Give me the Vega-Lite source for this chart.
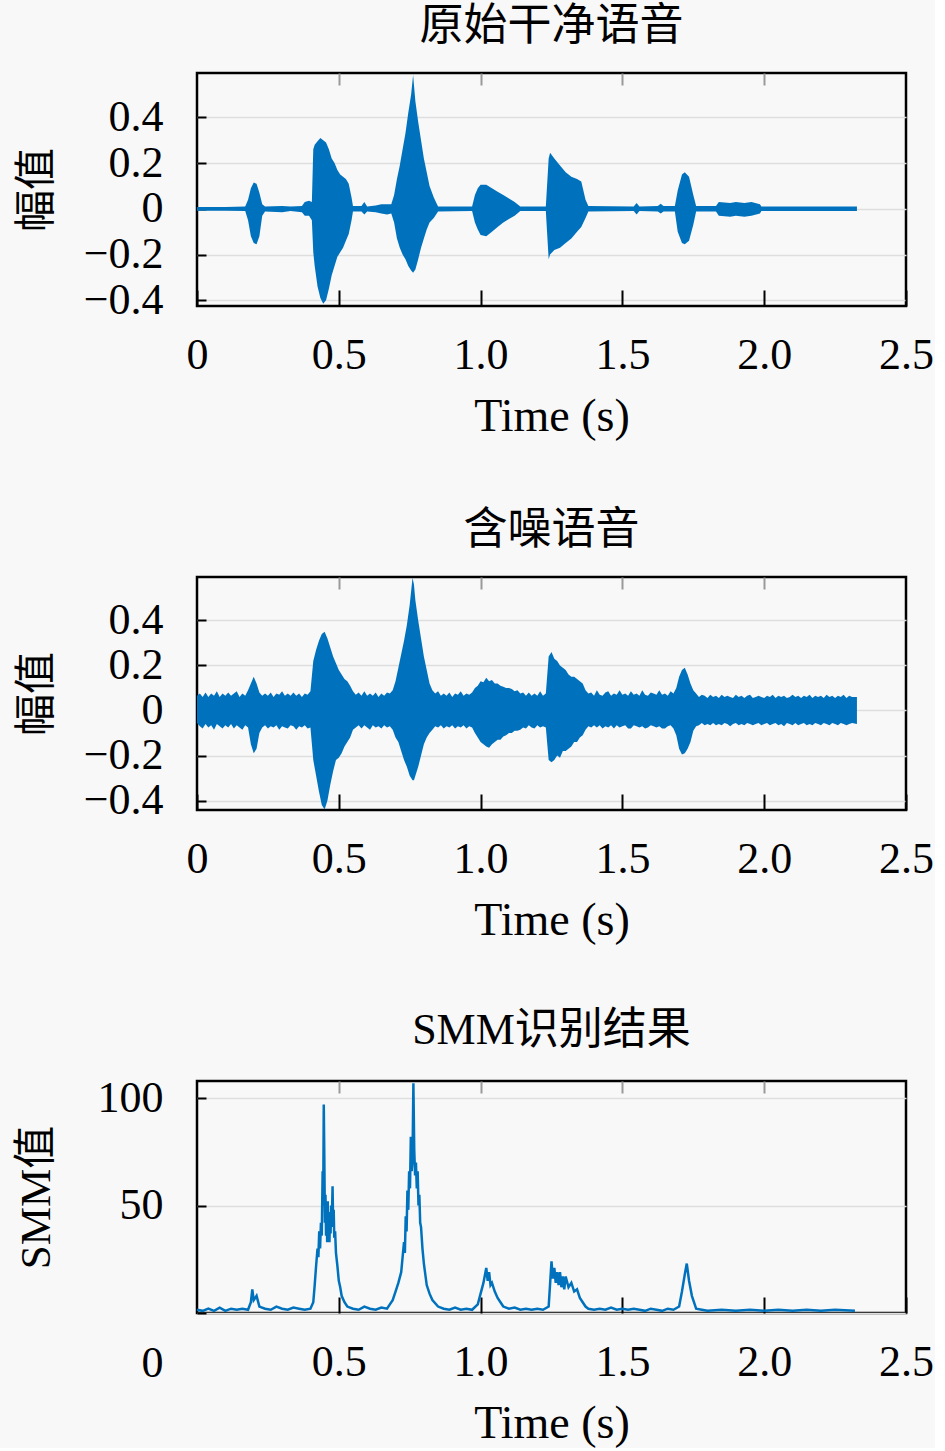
{
  "$schema": "https://vega.github.io/schema/vega-lite/v6.json",
  "background": "#f8f8f8",
  "padding": {"left": 13, "top": 3, "right": 0, "bottom": 0},
  "bounds": "flush",
  "spacing": 271,
  "config": {
    "font": "Liberation Serif, Noto Sans CJK SC",
    "view": {"stroke": "#000000", "strokeWidth": 2.5},
    "axis": {
      "labelFont": "Liberation Serif",
      "labelFontSize": 44,
      "labelColor": "#000000",
      "titleFont": "Liberation Serif, Noto Sans CJK SC",
      "titleFontWeight": "normal",
      "titleColor": "#000000",
      "domain": false,
      "tickColor": "#000000",
      "tickWidth": 2,
      "gridColor": "#dedede",
      "gridWidth": 1.5,
      "labelFlush": false,
      "labelOverlap": false
    },
    "title": {"font": "Liberation Serif, Noto Sans CJK SC", "fontSize": 44, "fontWeight": "normal", "color": "#000000", "anchor": "middle", "offset": 23}
  },
  "datasets": {
    "clean": [
      {"t": 0, "hi": 0.008, "lo": -0.008},
      {"t": 0.1, "hi": 0.008, "lo": -0.008},
      {"t": 0.17, "hi": 0.01, "lo": -0.01},
      {"t": 0.18, "hi": 0.04, "lo": -0.05},
      {"t": 0.19, "hi": 0.09, "lo": -0.12},
      {"t": 0.2, "hi": 0.115, "lo": -0.15},
      {"t": 0.21, "hi": 0.11, "lo": -0.155},
      {"t": 0.22, "hi": 0.07, "lo": -0.12},
      {"t": 0.23, "hi": 0.02, "lo": -0.03},
      {"t": 0.24, "hi": 0.01, "lo": -0.012},
      {"t": 0.3, "hi": 0.012, "lo": -0.015},
      {"t": 0.33, "hi": 0.01, "lo": -0.01},
      {"t": 0.37, "hi": 0.012, "lo": -0.015},
      {"t": 0.38, "hi": 0.03, "lo": -0.03},
      {"t": 0.395, "hi": 0.035, "lo": -0.03},
      {"t": 0.405, "hi": 0.03, "lo": -0.05},
      {"t": 0.41, "hi": 0.26, "lo": -0.19},
      {"t": 0.415, "hi": 0.28, "lo": -0.25},
      {"t": 0.425, "hi": 0.295, "lo": -0.34},
      {"t": 0.435, "hi": 0.31, "lo": -0.39},
      {"t": 0.445, "hi": 0.3, "lo": -0.415},
      {"t": 0.455, "hi": 0.29, "lo": -0.4},
      {"t": 0.465, "hi": 0.26, "lo": -0.35},
      {"t": 0.475, "hi": 0.22, "lo": -0.29},
      {"t": 0.485, "hi": 0.2, "lo": -0.25},
      {"t": 0.495, "hi": 0.17, "lo": -0.21},
      {"t": 0.505, "hi": 0.15, "lo": -0.19},
      {"t": 0.515, "hi": 0.14, "lo": -0.17},
      {"t": 0.525, "hi": 0.13, "lo": -0.14},
      {"t": 0.535, "hi": 0.11, "lo": -0.11},
      {"t": 0.545, "hi": 0.05, "lo": -0.05},
      {"t": 0.55, "hi": 0.012, "lo": -0.012},
      {"t": 0.58, "hi": 0.012, "lo": -0.012},
      {"t": 0.59, "hi": 0.03, "lo": -0.025},
      {"t": 0.6, "hi": 0.01, "lo": -0.012},
      {"t": 0.63, "hi": 0.015, "lo": -0.015},
      {"t": 0.65, "hi": 0.02, "lo": -0.02},
      {"t": 0.67, "hi": 0.02, "lo": -0.025},
      {"t": 0.685, "hi": 0.02, "lo": -0.02},
      {"t": 0.695, "hi": 0.06, "lo": -0.06},
      {"t": 0.705, "hi": 0.13, "lo": -0.13},
      {"t": 0.715, "hi": 0.19, "lo": -0.17},
      {"t": 0.725, "hi": 0.26, "lo": -0.2},
      {"t": 0.735, "hi": 0.33, "lo": -0.22},
      {"t": 0.745, "hi": 0.42, "lo": -0.25},
      {"t": 0.755, "hi": 0.5, "lo": -0.27},
      {"t": 0.762, "hi": 0.585, "lo": -0.28},
      {"t": 0.77, "hi": 0.47, "lo": -0.265},
      {"t": 0.78, "hi": 0.38, "lo": -0.22},
      {"t": 0.79, "hi": 0.3, "lo": -0.17},
      {"t": 0.8, "hi": 0.22, "lo": -0.13},
      {"t": 0.81, "hi": 0.16, "lo": -0.09},
      {"t": 0.82, "hi": 0.1, "lo": -0.06},
      {"t": 0.835, "hi": 0.05, "lo": -0.04},
      {"t": 0.85, "hi": 0.01, "lo": -0.012},
      {"t": 0.97, "hi": 0.01, "lo": -0.01},
      {"t": 0.98, "hi": 0.06, "lo": -0.06},
      {"t": 0.99, "hi": 0.09, "lo": -0.09},
      {"t": 1.0, "hi": 0.105, "lo": -0.115},
      {"t": 1.02, "hi": 0.105, "lo": -0.12},
      {"t": 1.04, "hi": 0.09, "lo": -0.1},
      {"t": 1.06, "hi": 0.075, "lo": -0.08},
      {"t": 1.08, "hi": 0.06, "lo": -0.06},
      {"t": 1.1, "hi": 0.045, "lo": -0.045},
      {"t": 1.12, "hi": 0.03, "lo": -0.03},
      {"t": 1.14, "hi": 0.01, "lo": -0.01},
      {"t": 1.23, "hi": 0.01, "lo": -0.01},
      {"t": 1.24, "hi": 0.22, "lo": -0.22},
      {"t": 1.245, "hi": 0.245, "lo": -0.2},
      {"t": 1.26, "hi": 0.22, "lo": -0.18},
      {"t": 1.28, "hi": 0.19, "lo": -0.17},
      {"t": 1.3, "hi": 0.16, "lo": -0.15},
      {"t": 1.32, "hi": 0.14, "lo": -0.13},
      {"t": 1.34, "hi": 0.13, "lo": -0.1},
      {"t": 1.355, "hi": 0.12, "lo": -0.08},
      {"t": 1.37, "hi": 0.04, "lo": -0.04},
      {"t": 1.38, "hi": 0.012, "lo": -0.012},
      {"t": 1.54, "hi": 0.01, "lo": -0.01},
      {"t": 1.55, "hi": 0.025, "lo": -0.025},
      {"t": 1.56, "hi": 0.01, "lo": -0.01},
      {"t": 1.625, "hi": 0.012, "lo": -0.012},
      {"t": 1.635, "hi": 0.022, "lo": -0.02},
      {"t": 1.645, "hi": 0.012, "lo": -0.012},
      {"t": 1.685, "hi": 0.012, "lo": -0.012},
      {"t": 1.695, "hi": 0.08, "lo": -0.1},
      {"t": 1.71, "hi": 0.15, "lo": -0.15},
      {"t": 1.72, "hi": 0.16, "lo": -0.155},
      {"t": 1.735, "hi": 0.14, "lo": -0.14},
      {"t": 1.75, "hi": 0.06, "lo": -0.07},
      {"t": 1.76, "hi": 0.012, "lo": -0.012},
      {"t": 1.83, "hi": 0.012, "lo": -0.012},
      {"t": 1.84, "hi": 0.03, "lo": -0.03},
      {"t": 1.88, "hi": 0.025, "lo": -0.035},
      {"t": 1.9, "hi": 0.03, "lo": -0.03},
      {"t": 1.93, "hi": 0.025, "lo": -0.035},
      {"t": 1.955, "hi": 0.03, "lo": -0.03},
      {"t": 1.985, "hi": 0.02, "lo": -0.02},
      {"t": 1.99, "hi": 0.01, "lo": -0.01},
      {"t": 2.327, "hi": 0.01, "lo": -0.01}
    ],
    "noisy": [
      {"t": 0.0, "hi": 0.065, "lo": -0.055},
      {"t": 0.01, "hi": 0.075, "lo": -0.07},
      {"t": 0.02, "hi": 0.06, "lo": -0.08},
      {"t": 0.03, "hi": 0.08, "lo": -0.06},
      {"t": 0.04, "hi": 0.06, "lo": -0.075},
      {"t": 0.05, "hi": 0.075, "lo": -0.065},
      {"t": 0.06, "hi": 0.065, "lo": -0.085},
      {"t": 0.07, "hi": 0.085, "lo": -0.06},
      {"t": 0.08, "hi": 0.06, "lo": -0.07},
      {"t": 0.09, "hi": 0.075, "lo": -0.08},
      {"t": 0.1, "hi": 0.065, "lo": -0.065},
      {"t": 0.11, "hi": 0.08, "lo": -0.075},
      {"t": 0.12, "hi": 0.065, "lo": -0.06},
      {"t": 0.13, "hi": 0.075, "lo": -0.08},
      {"t": 0.14, "hi": 0.085, "lo": -0.065},
      {"t": 0.15, "hi": 0.06, "lo": -0.075},
      {"t": 0.16, "hi": 0.075, "lo": -0.085},
      {"t": 0.17, "hi": 0.065, "lo": -0.065},
      {"t": 0.18, "hi": 0.09, "lo": -0.075},
      {"t": 0.19, "hi": 0.12, "lo": -0.15},
      {"t": 0.2, "hi": 0.15, "lo": -0.19},
      {"t": 0.21, "hi": 0.12, "lo": -0.17},
      {"t": 0.22, "hi": 0.08, "lo": -0.1},
      {"t": 0.23, "hi": 0.065, "lo": -0.075},
      {"t": 0.24, "hi": 0.075, "lo": -0.065},
      {"t": 0.25, "hi": 0.065, "lo": -0.08},
      {"t": 0.26, "hi": 0.08, "lo": -0.07},
      {"t": 0.27, "hi": 0.06, "lo": -0.075},
      {"t": 0.28, "hi": 0.075, "lo": -0.065},
      {"t": 0.29, "hi": 0.07, "lo": -0.085},
      {"t": 0.3, "hi": 0.085, "lo": -0.07},
      {"t": 0.31, "hi": 0.065, "lo": -0.075},
      {"t": 0.32, "hi": 0.075, "lo": -0.08},
      {"t": 0.33, "hi": 0.065, "lo": -0.065},
      {"t": 0.34, "hi": 0.08, "lo": -0.07},
      {"t": 0.35, "hi": 0.065, "lo": -0.085},
      {"t": 0.36, "hi": 0.075, "lo": -0.07},
      {"t": 0.37, "hi": 0.06, "lo": -0.075},
      {"t": 0.38, "hi": 0.075, "lo": -0.065},
      {"t": 0.39, "hi": 0.07, "lo": -0.08},
      {"t": 0.4, "hi": 0.085, "lo": -0.075},
      {"t": 0.41, "hi": 0.22, "lo": -0.22},
      {"t": 0.42, "hi": 0.27, "lo": -0.29},
      {"t": 0.43, "hi": 0.31, "lo": -0.36},
      {"t": 0.44, "hi": 0.34, "lo": -0.42},
      {"t": 0.45, "hi": 0.35, "lo": -0.44},
      {"t": 0.46, "hi": 0.32, "lo": -0.4},
      {"t": 0.47, "hi": 0.28, "lo": -0.33},
      {"t": 0.48, "hi": 0.24, "lo": -0.27},
      {"t": 0.49, "hi": 0.21, "lo": -0.22},
      {"t": 0.5, "hi": 0.18, "lo": -0.21},
      {"t": 0.51, "hi": 0.16, "lo": -0.19},
      {"t": 0.52, "hi": 0.14, "lo": -0.16},
      {"t": 0.53, "hi": 0.13, "lo": -0.14},
      {"t": 0.54, "hi": 0.11, "lo": -0.12},
      {"t": 0.55, "hi": 0.085, "lo": -0.085},
      {"t": 0.56, "hi": 0.07, "lo": -0.075},
      {"t": 0.57, "hi": 0.08, "lo": -0.065},
      {"t": 0.58, "hi": 0.065, "lo": -0.08},
      {"t": 0.59, "hi": 0.085, "lo": -0.065},
      {"t": 0.6, "hi": 0.065, "lo": -0.075},
      {"t": 0.61, "hi": 0.075, "lo": -0.085},
      {"t": 0.62, "hi": 0.065, "lo": -0.065},
      {"t": 0.63, "hi": 0.08, "lo": -0.075},
      {"t": 0.64, "hi": 0.06, "lo": -0.07},
      {"t": 0.65, "hi": 0.075, "lo": -0.08},
      {"t": 0.66, "hi": 0.065, "lo": -0.065},
      {"t": 0.67, "hi": 0.08, "lo": -0.075},
      {"t": 0.68, "hi": 0.075, "lo": -0.07},
      {"t": 0.69, "hi": 0.09, "lo": -0.085},
      {"t": 0.7, "hi": 0.13, "lo": -0.12},
      {"t": 0.71, "hi": 0.19, "lo": -0.14},
      {"t": 0.72, "hi": 0.25, "lo": -0.18},
      {"t": 0.73, "hi": 0.31, "lo": -0.22},
      {"t": 0.74, "hi": 0.38, "lo": -0.25},
      {"t": 0.75, "hi": 0.47, "lo": -0.29},
      {"t": 0.76, "hi": 0.59, "lo": -0.31},
      {"t": 0.765, "hi": 0.56, "lo": -0.31},
      {"t": 0.77, "hi": 0.49, "lo": -0.29},
      {"t": 0.78, "hi": 0.4, "lo": -0.25},
      {"t": 0.79, "hi": 0.32, "lo": -0.2},
      {"t": 0.8, "hi": 0.24, "lo": -0.15},
      {"t": 0.81, "hi": 0.18, "lo": -0.12},
      {"t": 0.82, "hi": 0.12, "lo": -0.1},
      {"t": 0.83, "hi": 0.09, "lo": -0.085},
      {"t": 0.84, "hi": 0.075, "lo": -0.07},
      {"t": 0.85, "hi": 0.085, "lo": -0.075},
      {"t": 0.86, "hi": 0.065, "lo": -0.065},
      {"t": 0.87, "hi": 0.075, "lo": -0.08},
      {"t": 0.88, "hi": 0.065, "lo": -0.07},
      {"t": 0.89, "hi": 0.08, "lo": -0.075},
      {"t": 0.9, "hi": 0.06, "lo": -0.065},
      {"t": 0.91, "hi": 0.075, "lo": -0.08},
      {"t": 0.92, "hi": 0.07, "lo": -0.07},
      {"t": 0.93, "hi": 0.085, "lo": -0.075},
      {"t": 0.94, "hi": 0.065, "lo": -0.065},
      {"t": 0.95, "hi": 0.075, "lo": -0.08},
      {"t": 0.96, "hi": 0.07, "lo": -0.07},
      {"t": 0.97, "hi": 0.08, "lo": -0.075},
      {"t": 0.98, "hi": 0.1, "lo": -0.1},
      {"t": 0.99, "hi": 0.11, "lo": -0.12},
      {"t": 1.0, "hi": 0.13, "lo": -0.14},
      {"t": 1.01, "hi": 0.125, "lo": -0.15},
      {"t": 1.02, "hi": 0.145, "lo": -0.16},
      {"t": 1.03, "hi": 0.13, "lo": -0.165},
      {"t": 1.04, "hi": 0.135, "lo": -0.15},
      {"t": 1.05, "hi": 0.12, "lo": -0.14},
      {"t": 1.06, "hi": 0.12, "lo": -0.13},
      {"t": 1.07, "hi": 0.11, "lo": -0.13},
      {"t": 1.08, "hi": 0.105, "lo": -0.115},
      {"t": 1.09, "hi": 0.1, "lo": -0.11},
      {"t": 1.1, "hi": 0.1, "lo": -0.1},
      {"t": 1.11, "hi": 0.095, "lo": -0.1},
      {"t": 1.12, "hi": 0.085, "lo": -0.09},
      {"t": 1.13, "hi": 0.09, "lo": -0.09},
      {"t": 1.14, "hi": 0.075, "lo": -0.085},
      {"t": 1.15, "hi": 0.08, "lo": -0.075},
      {"t": 1.16, "hi": 0.065, "lo": -0.08},
      {"t": 1.17, "hi": 0.08, "lo": -0.065},
      {"t": 1.18, "hi": 0.065, "lo": -0.075},
      {"t": 1.19, "hi": 0.075, "lo": -0.08},
      {"t": 1.2, "hi": 0.065, "lo": -0.065},
      {"t": 1.21, "hi": 0.085, "lo": -0.075},
      {"t": 1.22, "hi": 0.065, "lo": -0.07},
      {"t": 1.23, "hi": 0.075, "lo": -0.075},
      {"t": 1.24, "hi": 0.24, "lo": -0.22},
      {"t": 1.25, "hi": 0.26, "lo": -0.23},
      {"t": 1.26, "hi": 0.23, "lo": -0.22},
      {"t": 1.27, "hi": 0.22, "lo": -0.2},
      {"t": 1.28, "hi": 0.2, "lo": -0.21},
      {"t": 1.29, "hi": 0.19, "lo": -0.18},
      {"t": 1.3, "hi": 0.18, "lo": -0.18},
      {"t": 1.31, "hi": 0.16, "lo": -0.17},
      {"t": 1.32, "hi": 0.15, "lo": -0.16},
      {"t": 1.33, "hi": 0.15, "lo": -0.14},
      {"t": 1.34, "hi": 0.14, "lo": -0.14},
      {"t": 1.35, "hi": 0.13, "lo": -0.12},
      {"t": 1.36, "hi": 0.12, "lo": -0.11},
      {"t": 1.37, "hi": 0.09, "lo": -0.085},
      {"t": 1.38, "hi": 0.075, "lo": -0.07},
      {"t": 1.39, "hi": 0.08, "lo": -0.075},
      {"t": 1.4, "hi": 0.065, "lo": -0.065},
      {"t": 1.41, "hi": 0.09, "lo": -0.075},
      {"t": 1.42, "hi": 0.07, "lo": -0.065},
      {"t": 1.43, "hi": 0.065, "lo": -0.08},
      {"t": 1.44, "hi": 0.08, "lo": -0.07},
      {"t": 1.45, "hi": 0.085, "lo": -0.075},
      {"t": 1.46, "hi": 0.065, "lo": -0.065},
      {"t": 1.47, "hi": 0.075, "lo": -0.08},
      {"t": 1.48, "hi": 0.07, "lo": -0.065},
      {"t": 1.49, "hi": 0.09, "lo": -0.075},
      {"t": 1.5, "hi": 0.07, "lo": -0.07},
      {"t": 1.51, "hi": 0.075, "lo": -0.065},
      {"t": 1.52, "hi": 0.065, "lo": -0.08},
      {"t": 1.53, "hi": 0.085, "lo": -0.08},
      {"t": 1.54, "hi": 0.07, "lo": -0.065},
      {"t": 1.55, "hi": 0.075, "lo": -0.07},
      {"t": 1.56, "hi": 0.065, "lo": -0.075},
      {"t": 1.57, "hi": 0.09, "lo": -0.07},
      {"t": 1.58, "hi": 0.07, "lo": -0.08},
      {"t": 1.59, "hi": 0.065, "lo": -0.075},
      {"t": 1.6, "hi": 0.08, "lo": -0.065},
      {"t": 1.61, "hi": 0.075, "lo": -0.07},
      {"t": 1.62, "hi": 0.07, "lo": -0.075},
      {"t": 1.63, "hi": 0.09, "lo": -0.07},
      {"t": 1.64, "hi": 0.07, "lo": -0.08},
      {"t": 1.65, "hi": 0.075, "lo": -0.08},
      {"t": 1.66, "hi": 0.065, "lo": -0.07},
      {"t": 1.67, "hi": 0.085, "lo": -0.065},
      {"t": 1.68, "hi": 0.075, "lo": -0.08},
      {"t": 1.69, "hi": 0.1, "lo": -0.11},
      {"t": 1.7, "hi": 0.15, "lo": -0.17},
      {"t": 1.71, "hi": 0.18, "lo": -0.195},
      {"t": 1.72, "hi": 0.19, "lo": -0.19},
      {"t": 1.73, "hi": 0.16, "lo": -0.17},
      {"t": 1.74, "hi": 0.12, "lo": -0.14},
      {"t": 1.75, "hi": 0.09, "lo": -0.09},
      {"t": 1.76, "hi": 0.075, "lo": -0.07},
      {"t": 1.77, "hi": 0.06, "lo": -0.065},
      {"t": 1.78, "hi": 0.07, "lo": -0.055},
      {"t": 1.79, "hi": 0.065, "lo": -0.065},
      {"t": 1.8, "hi": 0.055, "lo": -0.06},
      {"t": 1.81, "hi": 0.07, "lo": -0.065},
      {"t": 1.82, "hi": 0.06, "lo": -0.055},
      {"t": 1.83, "hi": 0.065, "lo": -0.065},
      {"t": 1.84, "hi": 0.055, "lo": -0.06},
      {"t": 1.85, "hi": 0.07, "lo": -0.065},
      {"t": 1.86, "hi": 0.06, "lo": -0.055},
      {"t": 1.87, "hi": 0.065, "lo": -0.06},
      {"t": 1.88, "hi": 0.06, "lo": -0.07},
      {"t": 1.89, "hi": 0.055, "lo": -0.06},
      {"t": 1.9, "hi": 0.07, "lo": -0.055},
      {"t": 1.91, "hi": 0.06, "lo": -0.065},
      {"t": 1.92, "hi": 0.065, "lo": -0.06},
      {"t": 1.93, "hi": 0.055, "lo": -0.065},
      {"t": 1.94, "hi": 0.065, "lo": -0.055},
      {"t": 1.95, "hi": 0.07, "lo": -0.06},
      {"t": 1.96, "hi": 0.055, "lo": -0.065},
      {"t": 1.97, "hi": 0.06, "lo": -0.06},
      {"t": 1.98, "hi": 0.065, "lo": -0.055},
      {"t": 1.99, "hi": 0.06, "lo": -0.065},
      {"t": 2.0, "hi": 0.055, "lo": -0.06},
      {"t": 2.01, "hi": 0.065, "lo": -0.055},
      {"t": 2.02, "hi": 0.06, "lo": -0.065},
      {"t": 2.03, "hi": 0.07, "lo": -0.06},
      {"t": 2.04, "hi": 0.055, "lo": -0.055},
      {"t": 2.05, "hi": 0.065, "lo": -0.065},
      {"t": 2.06, "hi": 0.06, "lo": -0.06},
      {"t": 2.07, "hi": 0.065, "lo": -0.07},
      {"t": 2.08, "hi": 0.055, "lo": -0.055},
      {"t": 2.09, "hi": 0.06, "lo": -0.06},
      {"t": 2.1, "hi": 0.07, "lo": -0.065},
      {"t": 2.11, "hi": 0.06, "lo": -0.055},
      {"t": 2.12, "hi": 0.065, "lo": -0.065},
      {"t": 2.13, "hi": 0.055, "lo": -0.06},
      {"t": 2.14, "hi": 0.065, "lo": -0.055},
      {"t": 2.15, "hi": 0.06, "lo": -0.065},
      {"t": 2.16, "hi": 0.07, "lo": -0.06},
      {"t": 2.17, "hi": 0.055, "lo": -0.065},
      {"t": 2.18, "hi": 0.065, "lo": -0.055},
      {"t": 2.19, "hi": 0.06, "lo": -0.06},
      {"t": 2.2, "hi": 0.065, "lo": -0.065},
      {"t": 2.21, "hi": 0.055, "lo": -0.055},
      {"t": 2.22, "hi": 0.07, "lo": -0.06},
      {"t": 2.23, "hi": 0.06, "lo": -0.065},
      {"t": 2.24, "hi": 0.065, "lo": -0.055},
      {"t": 2.25, "hi": 0.055, "lo": -0.06},
      {"t": 2.26, "hi": 0.065, "lo": -0.065},
      {"t": 2.27, "hi": 0.06, "lo": -0.055},
      {"t": 2.28, "hi": 0.07, "lo": -0.06},
      {"t": 2.29, "hi": 0.055, "lo": -0.065},
      {"t": 2.3, "hi": 0.065, "lo": -0.06},
      {"t": 2.31, "hi": 0.06, "lo": -0.055},
      {"t": 2.327, "hi": 0.06, "lo": -0.06}
    ],
    "smm": [
      {"t": 0.0, "v": 1.5}, {"t": 0.02, "v": 1}, {"t": 0.04, "v": 2}, {"t": 0.06, "v": 1},
      {"t": 0.08, "v": 2.5}, {"t": 0.1, "v": 1}, {"t": 0.12, "v": 2}, {"t": 0.14, "v": 1.5},
      {"t": 0.16, "v": 2}, {"t": 0.18, "v": 1.5}, {"t": 0.19, "v": 5}, {"t": 0.195, "v": 11},
      {"t": 0.2, "v": 6}, {"t": 0.21, "v": 8}, {"t": 0.22, "v": 3}, {"t": 0.24, "v": 2},
      {"t": 0.26, "v": 1.5}, {"t": 0.28, "v": 3}, {"t": 0.3, "v": 2}, {"t": 0.32, "v": 1.5},
      {"t": 0.34, "v": 2.5}, {"t": 0.36, "v": 2}, {"t": 0.38, "v": 1.5}, {"t": 0.4, "v": 2},
      {"t": 0.41, "v": 5}, {"t": 0.415, "v": 13}, {"t": 0.42, "v": 22}, {"t": 0.425, "v": 30},
      {"t": 0.428, "v": 26}, {"t": 0.431, "v": 38}, {"t": 0.434, "v": 30}, {"t": 0.437, "v": 42},
      {"t": 0.44, "v": 36}, {"t": 0.443, "v": 66}, {"t": 0.445, "v": 50}, {"t": 0.447, "v": 97},
      {"t": 0.449, "v": 72}, {"t": 0.451, "v": 42}, {"t": 0.453, "v": 55}, {"t": 0.455, "v": 36},
      {"t": 0.457, "v": 50}, {"t": 0.459, "v": 33}, {"t": 0.461, "v": 52}, {"t": 0.463, "v": 36},
      {"t": 0.465, "v": 47}, {"t": 0.467, "v": 33}, {"t": 0.469, "v": 45}, {"t": 0.471, "v": 37},
      {"t": 0.473, "v": 50}, {"t": 0.475, "v": 40}, {"t": 0.478, "v": 59}, {"t": 0.48, "v": 42},
      {"t": 0.482, "v": 48}, {"t": 0.484, "v": 35}, {"t": 0.487, "v": 38}, {"t": 0.49, "v": 28},
      {"t": 0.495, "v": 22}, {"t": 0.5, "v": 15}, {"t": 0.505, "v": 12}, {"t": 0.51, "v": 8},
      {"t": 0.52, "v": 5}, {"t": 0.53, "v": 3},
      {"t": 0.55, "v": 2}, {"t": 0.57, "v": 1.5}, {"t": 0.59, "v": 3}, {"t": 0.61, "v": 2},
      {"t": 0.63, "v": 1.5}, {"t": 0.65, "v": 2.5}, {"t": 0.67, "v": 2}, {"t": 0.68, "v": 4},
      {"t": 0.69, "v": 6}, {"t": 0.7, "v": 10}, {"t": 0.71, "v": 14}, {"t": 0.72, "v": 19},
      {"t": 0.725, "v": 26}, {"t": 0.73, "v": 33}, {"t": 0.733, "v": 28}, {"t": 0.736, "v": 45},
      {"t": 0.739, "v": 38}, {"t": 0.742, "v": 57}, {"t": 0.745, "v": 48}, {"t": 0.748, "v": 66},
      {"t": 0.751, "v": 58}, {"t": 0.754, "v": 82}, {"t": 0.757, "v": 66}, {"t": 0.76, "v": 72},
      {"t": 0.763, "v": 107}, {"t": 0.766, "v": 76}, {"t": 0.769, "v": 64}, {"t": 0.772, "v": 70},
      {"t": 0.775, "v": 58}, {"t": 0.778, "v": 66}, {"t": 0.781, "v": 50}, {"t": 0.784, "v": 55},
      {"t": 0.787, "v": 42}, {"t": 0.79, "v": 40}, {"t": 0.795, "v": 30}, {"t": 0.8, "v": 23},
      {"t": 0.805, "v": 18}, {"t": 0.81, "v": 13}, {"t": 0.82, "v": 9}, {"t": 0.83, "v": 6},
      {"t": 0.85, "v": 3},
      {"t": 0.87, "v": 2}, {"t": 0.89, "v": 1.5}, {"t": 0.91, "v": 2.5}, {"t": 0.93, "v": 1.5},
      {"t": 0.95, "v": 2}, {"t": 0.97, "v": 1.5}, {"t": 0.99, "v": 4}, {"t": 1.0, "v": 9},
      {"t": 1.01, "v": 14}, {"t": 1.02, "v": 21}, {"t": 1.025, "v": 15}, {"t": 1.03, "v": 19},
      {"t": 1.035, "v": 13}, {"t": 1.04, "v": 14}, {"t": 1.05, "v": 10}, {"t": 1.06, "v": 7},
      {"t": 1.07, "v": 5},
      {"t": 1.08, "v": 3}, {"t": 1.1, "v": 2}, {"t": 1.12, "v": 2.5}, {"t": 1.14, "v": 1.5},
      {"t": 1.16, "v": 2}, {"t": 1.18, "v": 1.5}, {"t": 1.2, "v": 2}, {"t": 1.22, "v": 1.5},
      {"t": 1.24, "v": 3}, {"t": 1.25, "v": 24}, {"t": 1.255, "v": 16}, {"t": 1.26, "v": 21},
      {"t": 1.265, "v": 14}, {"t": 1.27, "v": 19}, {"t": 1.275, "v": 13}, {"t": 1.28, "v": 19},
      {"t": 1.285, "v": 12}, {"t": 1.29, "v": 17}, {"t": 1.295, "v": 11}, {"t": 1.3, "v": 17},
      {"t": 1.31, "v": 12}, {"t": 1.32, "v": 14}, {"t": 1.33, "v": 10}, {"t": 1.34, "v": 11},
      {"t": 1.35, "v": 7}, {"t": 1.36, "v": 5}, {"t": 1.37, "v": 3}, {"t": 1.38, "v": 2},
      {"t": 1.4, "v": 1.5}, {"t": 1.42, "v": 2}, {"t": 1.44, "v": 1.5}, {"t": 1.46, "v": 2.5},
      {"t": 1.48, "v": 1.5}, {"t": 1.5, "v": 2}, {"t": 1.52, "v": 1.5}, {"t": 1.54, "v": 2},
      {"t": 1.56, "v": 1.5}, {"t": 1.58, "v": 1}, {"t": 1.6, "v": 2}, {"t": 1.62, "v": 1.5},
      {"t": 1.64, "v": 1}, {"t": 1.66, "v": 2}, {"t": 1.68, "v": 1.5}, {"t": 1.7, "v": 3},
      {"t": 1.71, "v": 10}, {"t": 1.72, "v": 18}, {"t": 1.727, "v": 23}, {"t": 1.735, "v": 15},
      {"t": 1.745, "v": 8}, {"t": 1.755, "v": 4}, {"t": 1.76, "v": 2}, {"t": 1.78, "v": 1.5},
      {"t": 1.8, "v": 1}, {"t": 1.85, "v": 1.5}, {"t": 1.9, "v": 1}, {"t": 1.95, "v": 1.5},
      {"t": 2.0, "v": 1}, {"t": 2.05, "v": 1.5}, {"t": 2.1, "v": 1}, {"t": 2.15, "v": 1.5},
      {"t": 2.2, "v": 1}, {"t": 2.25, "v": 1.5}, {"t": 2.32, "v": 1}
    ]
  },
  "vconcat": [
    {
      "width": 709,
      "height": 233,
      "title": {"text": "原始干净语音"},
      "resolve": {"axis": {"x": "independent"}},
      "layer": [
        {
          "data": {"name": "clean"},
          "mark": {"type": "area", "color": "#0072BD", "interpolate": "linear"},
          "encoding": {
            "x": {"field": "t", "type": "quantitative", "scale": {"domain": [0, 2.5], "nice": false},
              "axis": {"values": [0, 0.5, 1, 1.5, 2, 2.5], "labelExpr": "datum.value == 0 ? '0' : format(datum.value, '.1f')", "tickSize": -16, "labelPadding": 43, "grid": false, "title": "Time (s)", "titleFontSize": 46, "titlePadding": 17}},
            "y": {"field": "hi", "type": "quantitative", "scale": {"domain": [-0.425, 0.594], "nice": false, "zero": false},
              "axis": {"values": [-0.4, -0.2, 0, 0.2, 0.4], "labelExpr": "datum.value == 0 ? '0' : replace(format(datum.value, '.1f'), '-', '\u2212')", "tickSize": -9, "labelPadding": 43, "grid": true, "title": "幅值", "titleFontSize": 42, "titlePadding": 25}},
            "y2": {"field": "lo"}
          }
        },
        {
          "data": {"values": []},
          "mark": {"type": "point", "opacity": 0},
          "encoding": {
            "x": {"field": "t", "type": "quantitative", "scale": {"domain": [0, 2.5], "nice": false},
              "axis": {"orient": "top", "values": [0.5, 1, 1.5, 2], "labels": false, "tickSize": -12, "tickColor": "#9a9a9a", "grid": false, "title": null}}
          }
        }
      ]
    },
    {
      "width": 709,
      "height": 233,
      "title": {"text": "含噪语音"},
      "resolve": {"axis": {"x": "independent"}},
      "layer": [
        {
          "data": {"name": "noisy"},
          "mark": {"type": "area", "color": "#0072BD", "interpolate": "linear"},
          "encoding": {
            "x": {"field": "t", "type": "quantitative", "scale": {"domain": [0, 2.5], "nice": false},
              "axis": {"values": [0, 0.5, 1, 1.5, 2, 2.5], "labelExpr": "datum.value == 0 ? '0' : format(datum.value, '.1f')", "tickSize": -16, "labelPadding": 43, "grid": false, "title": "Time (s)", "titleFontSize": 46, "titlePadding": 17}},
            "y": {"field": "hi", "type": "quantitative", "scale": {"domain": [-0.442, 0.593], "nice": false, "zero": false},
              "axis": {"values": [-0.4, -0.2, 0, 0.2, 0.4], "labelExpr": "datum.value == 0 ? '0' : replace(format(datum.value, '.1f'), '-', '\u2212')", "tickSize": -9, "labelPadding": 43, "grid": true, "title": "幅值", "titleFontSize": 42, "titlePadding": 25}},
            "y2": {"field": "lo"}
          }
        },
        {
          "data": {"values": []},
          "mark": {"type": "point", "opacity": 0},
          "encoding": {
            "x": {"field": "t", "type": "quantitative", "scale": {"domain": [0, 2.5], "nice": false},
              "axis": {"orient": "top", "values": [0.5, 1, 1.5, 2], "labels": false, "tickSize": -12, "tickColor": "#9a9a9a", "grid": false, "title": null}}
          }
        }
      ]
    },
    {
      "width": 709,
      "height": 232,
      "title": {"text": "SMM识别结果"},
      "resolve": {"axis": {"x": "independent"}},
      "layer": [
        {
          "data": {"name": "smm"},
          "mark": {"type": "line", "color": "#0072BD", "strokeWidth": 2.5, "interpolate": "linear"},
          "encoding": {
            "x": {"field": "t", "type": "quantitative", "scale": {"domain": [0, 2.5], "nice": false},
              "axis": {"values": [0.5, 1, 1.5, 2, 2.5], "labelExpr": "format(datum.value, '.1f')", "tickSize": -16, "labelPadding": 43, "grid": false, "title": "Time (s)", "titleFontSize": 46, "titlePadding": 17}},
            "y": {"field": "v", "type": "quantitative", "scale": {"domain": [0, 108], "nice": false, "zero": false},
              "axis": {"values": [0, 50, 100], "tickSize": -9, "labelPadding": 43, "grid": true, "title": "SMM值", "titleFontSize": 43, "titlePadding": 39,
                "labelOffset": {"condition": {"test": "datum.value == 0", "value": 50}, "value": 0}}}
          }
        },
        {
          "data": {"values": []},
          "mark": {"type": "point", "opacity": 0},
          "encoding": {
            "x": {"field": "t", "type": "quantitative", "scale": {"domain": [0, 2.5], "nice": false},
              "axis": {"orient": "top", "values": [0.5, 1, 1.5, 2], "labels": false, "tickSize": -12, "tickColor": "#9a9a9a", "grid": false, "title": null}}
          }
        }
      ]
    }
  ]
}
